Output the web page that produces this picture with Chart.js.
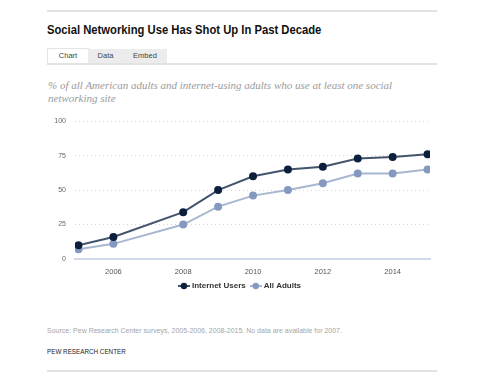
<!DOCTYPE html>
<html>
<head>
<meta charset="utf-8">
<script src="https://cdn.jsdelivr.net/npm/chart.js@4/dist/chart.umd.min.js"></script>
<style>
  body { margin: 0; background: #fff; font-family: "Liberation Sans", Arial, sans-serif; }
  #page { position: relative; width: 500px; height: 384px; overflow: hidden; }
  .rule { position: absolute; left: 47px; width: 390px; height: 2px; background: #e2e2e2; }
  #title { position: absolute; left: 47px; top: 22px; font-size: 13px; font-weight: bold; color: #111; white-space: nowrap; transform: scaleX(0.865); transform-origin: left center; }
  .tab { position: absolute; top: 49px; height: 14px; line-height: 14px; font-size: 7.5px; color: #444; text-align: center; }
  #subtitle { position: absolute; left: 48px; top: 79px; width: 345px; font-family: "Liberation Serif", Georgia, serif; font-style: italic; font-size: 11px; line-height: 13px; color: #9a9a9a; }
  #chartBox { position: absolute; left: 51px; top: 108px; width: 399px; height: 192px; }
  #source { position: absolute; left: 47px; top: 327px; font-size: 7px; color: #a5a5a5; }
  #credit { position: absolute; left: 47px; top: 348px; font-size: 6.3px; color: #222; }
</style>
</head>
<body>
<div id="page">
  <div class="rule" style="top:10px"></div>
  <div id="title">Social Networking Use Has Shot Up In Past Decade</div>
  <div class="tab" style="left:47px;width:40px;background:#fff;border:1px solid #e4e4e4;border-bottom:none;top:48px;">Chart</div>
  <div class="tab" style="left:88px;width:35px;background:#ececec;">Data</div>
  <div class="tab" style="left:123px;width:44px;background:#ececec;">Embed</div>
  <div class="rule" style="top:63px"></div>
  <div id="subtitle">% of all American adults and internet-using adults who use at least one social networking site</div>
  <div id="chartBox"><canvas id="socialChart"></canvas></div>
  <div id="source">Source: Pew Research Center surveys, 2005-2006, 2008-2015. No data are available for 2007.</div>
  <div id="credit">PEW RESEARCH CENTER</div>
  <div class="rule" style="top:370px"></div>
</div>
<script>
// Survey years (no data for 2007)
const years = [2005, 2006, 2008, 2009, 2010, 2011, 2012, 2013, 2014, 2015];
const internetUsers = [10, 16, 34, 50, 60, 65, 67, 73, 74, 76];
const allAdults = [7, 11, 25, 38, 46, 50, 55, 62, 62, 65];
const xTicks = [2006, 2008, 2010, 2012, 2014];
const yTicks = [0, 25, 50, 75, 100];

// legend marker: short line with a dot on it
function legendMarker(lineColor, dotColor) {
    const c = document.createElement('canvas');
    c.width = 12; c.height = 8;
    const g = c.getContext('2d');
    g.strokeStyle = lineColor;
    g.lineWidth = 2;
    g.beginPath(); g.moveTo(0, 4); g.lineTo(12, 4); g.stroke();
    g.fillStyle = dotColor;
    g.beginPath(); g.arc(6, 4, 3.2, 0, Math.PI * 2); g.fill();
    return c;
}

const toPoints = (vals) => years.map((yr, i) => ({ x: yr, y: vals[i] }));

const ctx = document.getElementById('socialChart').getContext('2d');

new Chart(ctx, {
    type: 'line',
    data: {
        datasets: [
            {
                label: 'Internet Users',
                data: toPoints(internetUsers),
                borderColor: '#43546c',
                backgroundColor: '#0c203d',
                pointBackgroundColor: '#0c203d',
                pointBorderColor: '#0c203d',
                borderWidth: 2,
                pointRadius: 3,
                tension: 0
            },
            {
                label: 'All Adults',
                data: toPoints(allAdults),
                borderColor: '#a8b7d1',
                backgroundColor: '#8499bf',
                pointBackgroundColor: '#8499bf',
                pointBorderColor: '#8499bf',
                borderWidth: 2,
                pointRadius: 3,
                tension: 0
            }
        ]
    },
    options: {
        responsive: true,
        maintainAspectRatio: false,
        animation: false,
        layout: { padding: { top: 10, right: 20, left: 0, bottom: 0 } },
        plugins: {
            tooltip: { enabled: false },
            legend: {
                position: 'bottom',
                labels: {
                    usePointStyle: true,
                    boxWidth: 12,
                    padding: 6,
                    color: '#333',
                    font: { family: 'Liberation Sans', size: 8, weight: 'bold' },
                    generateLabels: function (chart) {
                        const items = Chart.defaults.plugins.legend.labels.generateLabels(chart);
                        items[0].pointStyle = legendMarker('#43546c', '#0c203d');
                        items[1].pointStyle = legendMarker('#a8b7d1', '#8499bf');
                        return items;
                    }
                }
            }
        },
        scales: {
            x: {
                type: 'linear',
                min: 2004.9,
                max: 2015.07,
                afterBuildTicks: (axis) => { axis.ticks = xTicks.map(v => ({ value: v })); },
                afterFit: (axis) => { axis.height -= 8; },
                grid: { display: false, drawTicks: false },
                border: { display: true, color: '#cfd9ea', width: 2 },
                ticks: {
                    padding: 8,
                    color: '#555',
                    font: { family: 'Liberation Sans', size: 7.5 },
                    callback: (v) => String(v)
                }
            },
            y: {
                min: 0,
                max: 100,
                afterBuildTicks: (axis) => { axis.ticks = yTicks.map(v => ({ value: v })); },
                afterFit: (axis) => { axis.width = 24; },
                grid: { color: '#d6d6d6', drawTicks: false, lineWidth: 1 },
                border: { display: false, dash: [1, 3] },
                ticks: {
                    padding: 9,
                    color: '#666',
                    font: { family: 'Liberation Sans', size: 7 }
                }
            }
        }
    }
});
</script>
</body>
</html>
